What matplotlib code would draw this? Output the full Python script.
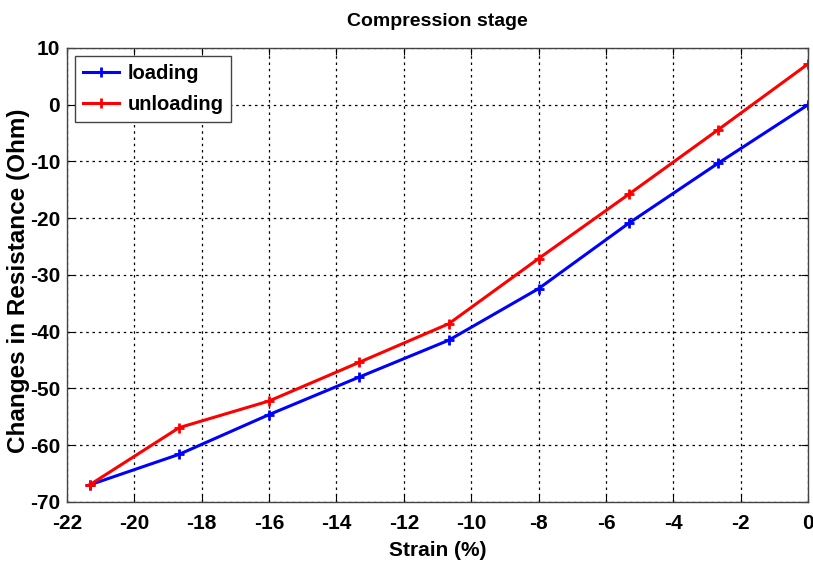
import matplotlib.pyplot as plt
import numpy as np

# Data
strain = [-21.33, -18.67, -16.0, -13.33, -10.67, -8.0, -5.33, -2.67, 0.0]
loading = [-67.0, -61.6, -54.6, -48.0, -41.5, -32.4, -20.9, -10.3, 0.0]
unloading = [-67.0, -56.9, -52.2, -45.4, -38.6, -27.1, -15.8, -4.4, 7.2]

xticks = np.arange(-22, 1, 2)
yticks = np.arange(-70, 11, 10)

plt.rcParams['font.family'] = ['Liberation Sans', 'DejaVu Sans']
plt.rcParams['font.weight'] = 'bold'
plt.rcParams['axes.unicode_minus'] = False

fig = plt.figure(figsize=(8.13, 5.62), dpi=100)
ax = fig.add_axes([0.0824, 0.1068, 0.9116, 0.8078])

ax.plot(strain, loading, color='blue', marker='+', markersize=7, mew=2,
        linewidth=2.2, label='loading')
ax.plot(strain, unloading, color='red', marker='+', markersize=7, mew=2,
        linewidth=2.2, label='unloading')

ax.set_xlim(-22, 0)
ax.set_ylim(-70, 10)
ax.set_xticks(xticks)
ax.set_yticks(yticks)
ax.tick_params(direction='in', length=5, labelsize=15, top=True, right=True)
ax.tick_params(axis='x', pad=9)
ax.tick_params(axis='y', pad=5)
ax.grid(True, color='black', linestyle=(0, (2, 3)), linewidth=0.9)
for s in ax.spines.values():
    s.set_color('#444444')
    s.set_linewidth(1.0)

ax.set_xlabel('Strain (%)', fontsize=15, fontweight='bold')
ax.xaxis.set_label_coords(0.5, -0.087)
ax.set_ylabel('Changes in Resistance (Ohm)', fontsize=17.5, fontweight='bold')
ax.yaxis.set_label_coords(-0.05, 0.487)
ax.set_title('Compression stage', fontsize=14, fontweight='bold', pad=16)

leg = ax.legend(loc='upper left', fontsize=14.5, fancybox=False, framealpha=1,
                edgecolor='#444444', handlelength=1.8, borderpad=0.4,
                labelspacing=0.6, handletextpad=0.4, borderaxespad=0.4)
leg.get_frame().set_linewidth(1.0)

fig.savefig('out.png', dpi=100)
